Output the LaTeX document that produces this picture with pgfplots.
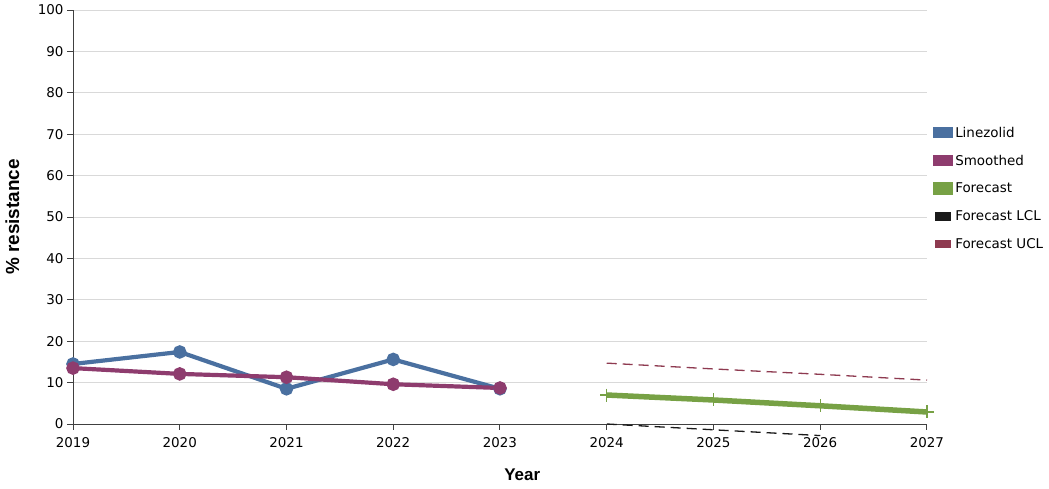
\documentclass[border=0pt]{standalone}
\usepackage{pgfplots}
\pgfplotsset{compat=1.18}
\usepackage{fontspec}
\setmainfont{DejaVu Sans}
\newfontfamily\labelfont{Liberation Sans}
\definecolor{cLin}{HTML}{4A70A0}
\definecolor{cSmo}{HTML}{8E3C6E}
\definecolor{cFor}{HTML}{77A145}
\definecolor{cLCL}{HTML}{1A1A1A}
\definecolor{cUCL}{HTML}{8E3A50}
\begin{document}
\begin{tikzpicture}
\path[use as bounding box] (-73bp,-65bp) rectangle (976bp,424bp);
\begin{axis}[
  at={(0,0)}, anchor=south west,
  scale only axis, width=854bp, height=414bp,
  xmin=2019, xmax=2027, ymin=0, ymax=100,
  xtick={2019,...,2027}, ytick={0,10,...,100},
  /pgf/number format/1000 sep={},
  /pgf/number format/assume math mode=true,
  axis x line*=bottom, axis y line*=left,
  axis line style={black!75, line width=0.9bp},
  tick style={black!75, line width=0.9bp},
  tick align=outside, major tick length=6bp,
  ymajorgrids, grid style={black!15, line width=0.8bp},
  ticklabel style={font=\fontsize{13.5}{15}\selectfont},
  xticklabel style={yshift=-4bp},
  xlabel={\labelfont\bfseries\fontsize{17}{19}\selectfont Year},
  ylabel={\labelfont\bfseries\fontsize{19}{21}\selectfont \% resistance},
  xlabel style={at={(axis description cs:0.526,-0.123)}, anchor=center},
  ylabel style={at={(axis description cs:-0.071,0.5)}, anchor=center},
  clip=false,
  legend style={at={(rel axis cs:1.003,0.728)}, anchor=north west, draw=none, fill=none,
    font=\fontsize{13.5}{15}\selectfont, row sep=12.4bp},
  legend cell align=left,
  legend image code/.code={\fill[solid] (3bp,-3.5bp) rectangle (18bp,4bp);},
]
\addplot[color=cLin, line width=4.2bp, mark=*, mark size=4.6bp] coordinates {
(2019,14.5) (2020,17.4) (2021,8.5) (2022,15.6) (2023,8.5)};
\addlegendentry{Linezolid}
\addplot[color=cSmo, line width=4.2bp, mark=*, mark size=4.6bp] coordinates {
(2019,13.5) (2020,12.1) (2021,11.3) (2022,9.6) (2023,8.7)};
\addlegendentry{Smoothed}
\addplot[color=cFor, line width=5.5bp, mark=+, mark size=6.5bp, mark options={line width=1.4bp}] coordinates {
(2024,7.0) (2025,5.8) (2026,4.4) (2027,2.9)};
\addlegendentry{Forecast}
\addplot[color=cLCL, line width=1.3bp, dash pattern=on 10bp off 6bp] coordinates {
(2024,0) (2025,-1.4) (2026,-2.8)};
\addlegendentry{Forecast LCL}
\addplot[color=cUCL, line width=1.3bp, dash pattern=on 10bp off 6bp] coordinates {
(2024,14.7) (2025,13.3) (2026,12.0) (2027,10.6)};
\addlegendentry{Forecast UCL}
\end{axis}
\end{tikzpicture}
\end{document}
